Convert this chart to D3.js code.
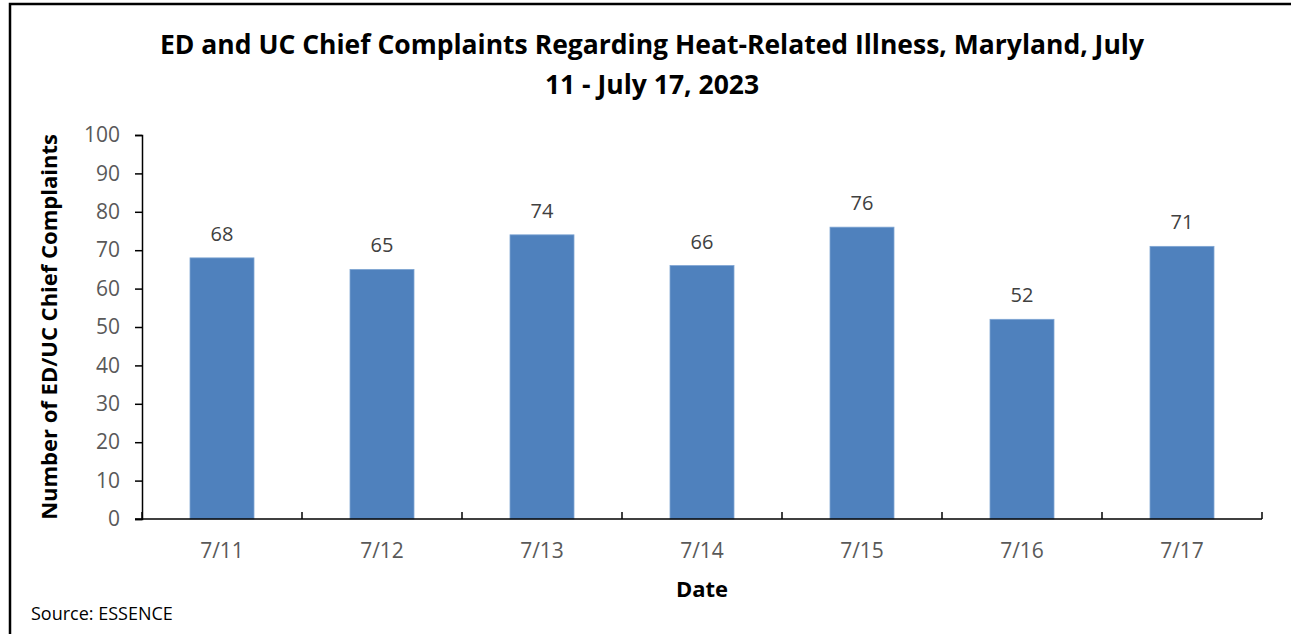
<!DOCTYPE html>
<html>
<head>
<meta charset="utf-8">
<script src="https://cdnjs.cloudflare.com/ajax/libs/d3/7.8.5/d3.min.js"></script>
<style>
  body { margin: 0; background: #fff; }
  svg { display: block; font-family: "Open Sans", "Liberation Sans", sans-serif; }
</style>
</head>
<body>
<div id="chart"></div>
<script>
// chart data
var dates = ["7/11", "7/12", "7/13", "7/14", "7/15", "7/16", "7/17"];
var complaints = [68, 65, 74, 66, 76, 52, 71];
var yTicks = [0, 10, 20, 30, 40, 50, 60, 70, 80, 90, 100];

var width = 1291, height = 634;
var margin = { left: 142, right: 1291 - 1262, top: 135, bottom: 634 - 519 };

var svg = d3.select("#chart").append("svg")
    .attr("width", width)
    .attr("height", height);

// outer frame
svg.append("rect")
    .attr("x", 10).attr("y", 4)
    .attr("width", width + 20).attr("height", height + 20)
    .attr("fill", "none")
    .attr("stroke", "#000")
    .attr("stroke-width", 2.5);

var x = d3.scaleBand()
    .domain(dates)
    .range([margin.left, width - margin.right])
    .paddingInner(0.6)
    .paddingOuter(0.3);

var y = d3.scaleLinear()
    .domain([0, 100])
    .range([height - margin.bottom, margin.top]);

// bars
svg.append("g").selectAll("rect")
    .data(dates)
    .enter().append("rect")
    .attr("x", function(d) { return x(d); })
    .attr("y", function(d, i) { return y(complaints[i]); })
    .attr("width", x.bandwidth())
    .attr("height", function(d, i) { return y(0) - y(complaints[i]); })
    .attr("fill", "#4f81bd")
    .attr("stroke", "#7fa5d3")
    .attr("stroke-width", 0.8);

// value labels
svg.append("g").selectAll("text")
    .data(dates)
    .enter().append("text")
    .attr("x", function(d) { return x(d) + x.bandwidth() / 2; })
    .attr("y", function(d, i) { return y(complaints[i]) - 17; })
    .attr("text-anchor", "middle")
    .attr("font-size", 20)
    .attr("fill", "#404040")
    .text(function(d, i) { return complaints[i]; });

// y axis
var yAxis = svg.append("g")
    .attr("transform", "translate(" + margin.left + ",0)")
    .call(d3.axisLeft(y).tickValues(yTicks).tickSize(7).tickPadding(15));
yAxis.select(".domain").attr("stroke", "#000").attr("stroke-width", 1.5);
yAxis.selectAll(".tick line").attr("stroke", "#000").attr("stroke-width", 1.5);
yAxis.selectAll(".tick text")
    .attr("font-size", 21)
    .attr("fill", "#595959")
    .attr("font-family", "'Open Sans', sans-serif");

// x axis: ticks sit on category boundaries, pointing up
var step = x.step();
var boundaries = d3.range(dates.length + 1).map(function(i) { return margin.left + i * step; });
var xAxis = svg.append("g");
xAxis.append("line")
    .attr("x1", margin.left - 7).attr("x2", width - margin.right)
    .attr("y1", y(0)).attr("y2", y(0))
    .attr("stroke", "#000").attr("stroke-width", 1.5);
xAxis.selectAll(".bt")
    .data(boundaries)
    .enter().append("line")
    .attr("class", "bt")
    .attr("x1", function(d) { return d; }).attr("x2", function(d) { return d; })
    .attr("y1", y(0)).attr("y2", y(0) - 7)
    .attr("stroke", "#000").attr("stroke-width", 1.5);
xAxis.selectAll("text")
    .data(dates)
    .enter().append("text")
    .attr("x", function(d) { return x(d) + x.bandwidth() / 2; })
    .attr("y", 558)
    .attr("text-anchor", "middle")
    .attr("font-size", 21)
    .attr("fill", "#595959")
    .text(function(d) { return d; });

// titles
var title = svg.append("text")
    .attr("x", 652)
    .attr("text-anchor", "middle")
    .attr("font-size", 26.5)
    .attr("font-weight", "bold")
    .attr("fill", "#000");
title.append("tspan").attr("x", 652).attr("y", 54)
    .text("ED and UC Chief Complaints Regarding Heat-Related Illness, Maryland, July");
title.append("tspan").attr("x", 652).attr("y", 94)
    .text("11 - July 17, 2023");

svg.append("text")
    .attr("transform", "translate(57," + ((margin.top + y(0)) / 2) + ") rotate(-90)")
    .attr("text-anchor", "middle")
    .attr("font-size", 22)
    .attr("font-weight", "bold")
    .text("Number of ED/UC Chief Complaints");

svg.append("text")
    .attr("x", (margin.left + width - margin.right) / 2)
    .attr("y", 597)
    .attr("text-anchor", "middle")
    .attr("font-size", 22)
    .attr("font-weight", "bold")
    .text("Date");

svg.append("text")
    .attr("x", 31)
    .attr("y", 620)
    .attr("font-size", 18)
    .text("Source: ESSENCE");
</script>
</body>
</html>
